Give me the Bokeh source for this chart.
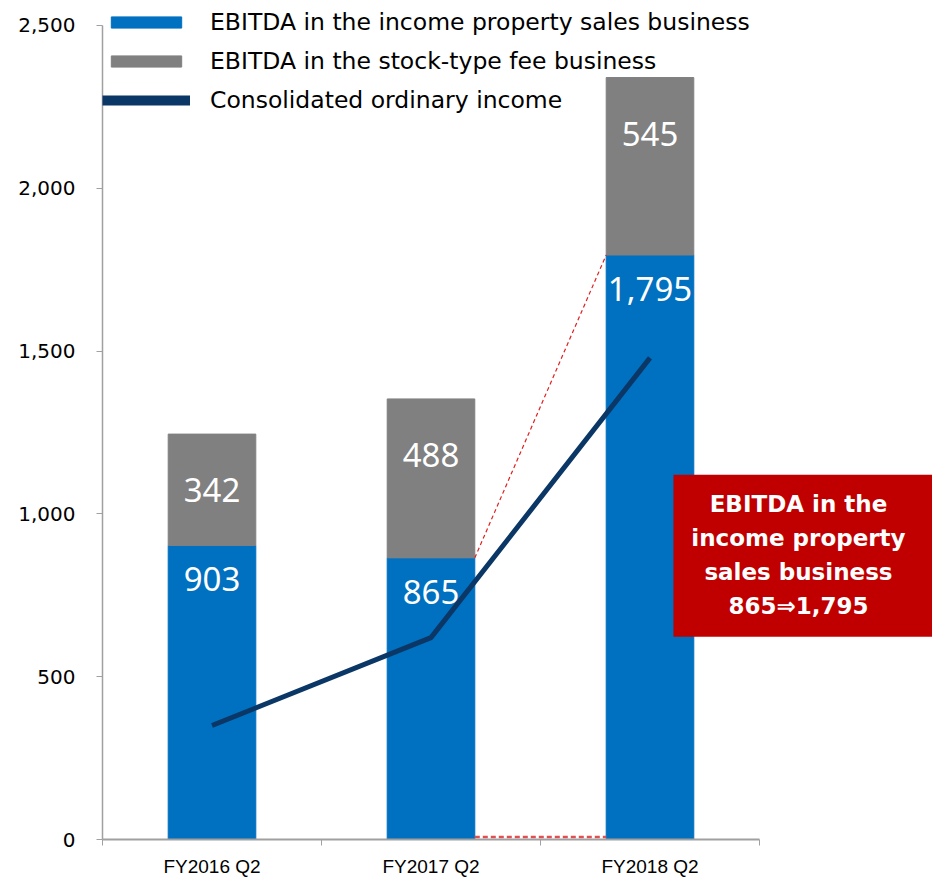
from bokeh.plotting import figure
from bokeh.models import (ColumnDataSource, FixedTicker, Legend, LegendItem,
                          Range1d, NumeralTickFormatter)
from bokeh.core.properties import value
from bokeh.embed import file_html
from bokeh.resources import INLINE

# ---- data ----
categories = ["FY2016 Q2", "FY2017 Q2", "FY2018 Q2"]
ebitda_sales = [903, 865, 1795]
ebitda_fee = [342, 488, 545]
ordinary_income = [350, 620, 1479]
y_ticks = [0, 500, 1000, 1500, 2000, 2500]
callout_text = "EBITDA in the\nincome property\nsales business\n865\u21d21,795"

BLUE = "#0070C0"
GRAY = "#808080"
NAVY = "#0B3766"
RED = "#C00000"

xs = list(range(len(categories)))
totals = [a + b for a, b in zip(ebitda_sales, ebitda_fee)]
src = ColumnDataSource(dict(
    x=xs, sales=ebitda_sales, fee=ebitda_fee, total=totals,
    sales_lbl=[f"{v:,}" for v in ebitda_sales],
    fee_lbl=[f"{v:,}" for v in ebitda_fee],
    income=ordinary_income,
))

W, H = 932, 879
p = figure(width=W, height=H, output_backend="svg", toolbar_location=None,
           x_range=Range1d(-0.5, 3.29), y_range=Range1d(0, 2552),
           min_border_left=102, min_border_right=0, min_border_top=8,
           min_border_bottom=39)
p.outline_line_color = None
p.grid.visible = False
p.background_fill_color = "white"
p.border_fill_color = "white"

bw = 0.4
r_sales = p.vbar(x="x", bottom=0, top="sales", width=bw, source=src,
                 fill_color=BLUE, line_color=BLUE)
r_fee = p.vbar(x="x", bottom="sales", top="total", width=bw, source=src,
               fill_color=GRAY, line_color=GRAY)

# red dashed guide lines between FY2017 and FY2018 blue bars
p.segment(x0=[xs[1] + bw / 2], y0=[ebitda_sales[1]],
          x1=[xs[2] - bw / 2], y1=[ebitda_sales[2]],
          line_color="#E02020", line_width=1.2, line_dash="4 3")
p.segment(x0=[xs[1] + bw / 2], y0=[8], x1=[xs[2] - bw / 2], y1=[8],
          line_color="#E05050", line_width=2.5, line_dash="5 3")

r_line = p.line(x="x", y="income", source=src, line_color=NAVY, line_width=5)
r_line_leg = p.line(x=[0], y=[float("nan")], line_color=NAVY, line_width=10)

# value labels
p.text(x="x", y="sales", text="sales_lbl", source=src, text_color="white",
       text_font=value("Noto Sans"), text_font_size="33px",
       text_align="center", text_baseline="middle", y_offset=34)
p.text(x="x", y="total", text="fee_lbl", source=src, text_color="white",
       text_font=value("Noto Sans"), text_font_size="33px",
       text_align="center", text_baseline="middle", y_offset=56)

# callout box
p.quad(left=[2.107], right=[3.29], bottom=[623], top=[1120],
       fill_color=RED, line_color=None)
p.text(x=[2.678], y=[874], text=[callout_text], text_color="white",
       text_font=value("DejaVu Sans"), text_font_style="bold",
       text_font_size="23px", text_align="center", text_baseline="middle",
       text_line_height=1.3)

# axes
p.yaxis.ticker = FixedTicker(ticks=y_ticks)
p.yaxis.bounds = (0, 2500)
p.yaxis.formatter = NumeralTickFormatter(format="0,0")
p.yaxis.axis_line_color = "#A0A0A0"
p.yaxis.axis_line_width = 1.5
p.yaxis.major_tick_line_color = "#A0A0A0"
p.yaxis.major_tick_out = 6
p.yaxis.major_tick_in = 0
p.yaxis.minor_tick_line_color = None
p.yaxis.major_label_text_font = "DejaVu Sans"
p.yaxis.major_label_text_font_size = "20px"
p.yaxis.major_label_text_color = "black"
p.yaxis.major_label_standoff = 21

p.xaxis.ticker = FixedTicker(ticks=xs, minor_ticks=[-0.5, 0.5, 1.5, 2.5])
p.xaxis.bounds = (-0.5, 2.5)
p.xaxis.major_label_overrides = {i: c for i, c in zip(xs, categories)}
p.xaxis.major_tick_line_color = None
p.xaxis.minor_tick_line_color = "#A0A0A0"
p.xaxis.minor_tick_out = 6
p.xaxis.minor_tick_in = 0
p.xaxis.axis_line_color = "#A0A0A0"
p.xaxis.axis_line_width = 2
p.xaxis.major_label_text_font = "Liberation Sans"
p.xaxis.major_label_text_font_size = "19px"
p.xaxis.major_label_text_color = "black"
p.xaxis.major_label_standoff = 10

legend = Legend(items=[
    LegendItem(label="EBITDA in the income property sales business", renderers=[r_sales]),
    LegendItem(label="EBITDA in the stock-type fee business", renderers=[r_fee]),
    LegendItem(label="Consolidated ordinary income", renderers=[r_line_leg]),
], location="top_left", margin=0, padding=1, spacing=11,
    glyph_width=88, glyph_height=14, label_standoff=20,
    label_text_font="DejaVu Sans", label_text_font_size="23.5px",
    label_text_color="black", border_line_color=None,
    background_fill_alpha=0.0)
p.add_layout(legend)

open("out.html", "w").write(file_html(p, INLINE))
